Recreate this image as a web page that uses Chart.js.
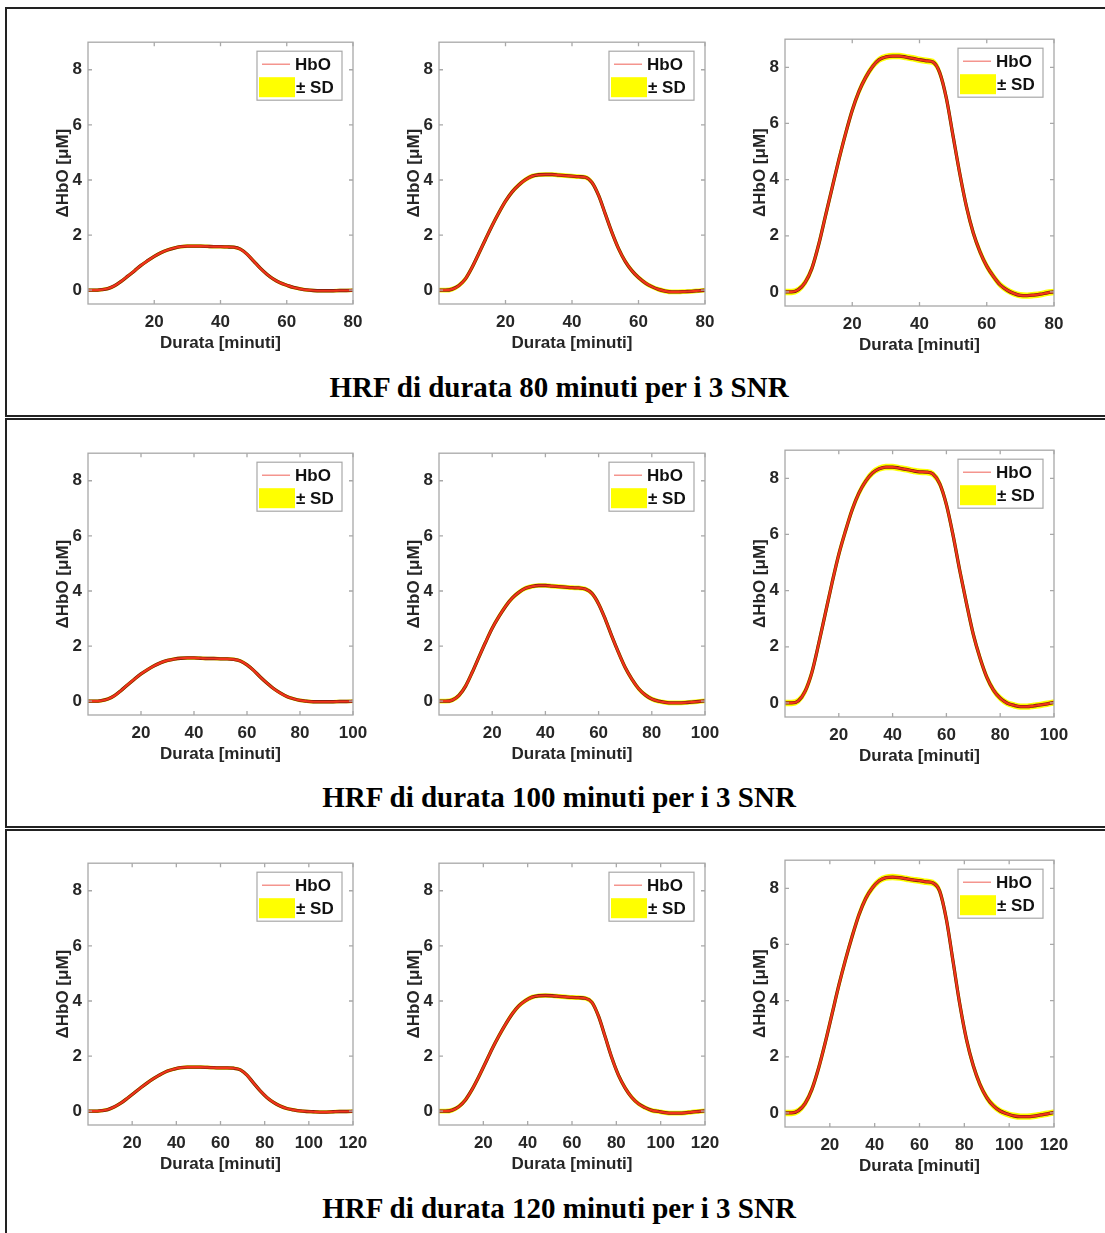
<!DOCTYPE html>
<html>
<head>
<meta charset="utf-8">
<title>HRF</title>
<script src="https://cdn.jsdelivr.net/npm/chart.js@4.4.1/dist/chart.umd.min.js"></script>
<style>
  body { margin: 0; background: #fff; width: 1105px; height: 1233px; overflow: hidden; position: relative; }
  .frame { position: absolute; left: 5px; width: 1108px; border: 2px solid #222; box-sizing: border-box; }
  .caption { position: absolute; left: 5px; width: 1108px; text-align: center; line-height: 32px;
             font: bold 29px 'Liberation Serif', 'Times New Roman', serif; color: #000; }
  canvas { position: absolute; }
</style>
</head>
<body>
<div class="frame" style="top:7px;height:410px"></div>
<div class="frame" style="top:418px;height:410px"></div>
<div class="frame" style="top:829px;height:420px"></div>
<div class="caption" style="top:371px">HRF di durata 80 minuti per i 3 SNR</div>
<div class="caption" style="top:781px">HRF di durata 100 minuti per i 3 SNR</div>
<div class="caption" style="top:1192px">HRF di durata 120 minuti per i 3 SNR</div>

<script>
// time axes (minutes)
const t80 = [0, 2, 4, 6, 8, 10, 12, 14, 16, 18, 20, 22, 24, 26, 28, 30, 32, 34, 36, 38, 40,
  42, 44, 46, 48, 50, 52, 54, 56, 58, 60, 62, 64, 66, 68, 70, 72, 74, 76, 78, 80];
const t100 = [0, 2.5, 5, 7.5, 10, 12.5, 15, 17.5, 20, 22.5, 25, 27.5, 30, 32.5, 35, 37.5, 40,
  42.5, 45, 47.5, 50, 52.5, 55, 57.5, 60, 62.5, 65, 67.5, 70, 72.5, 75, 77.5, 80,
  82.5, 85, 87.5, 90, 92.5, 95, 97.5, 100];
const t120 = [0, 3, 6, 9, 12, 15, 18, 21, 24, 27, 30, 33, 36, 39, 42, 45, 48, 51, 54, 57, 60,
  63, 66, 69, 72, 75, 78, 81, 84, 87, 90, 93, 96, 99, 102, 105, 108, 111, 114, 117, 120];

// mean HbO response, duration 80
const hbo80a = [0, 0, 0.02, 0.06, 0.16, 0.32, 0.51, 0.70, 0.90, 1.07, 1.23, 1.36, 1.46, 1.53, 1.58, 1.60, 1.60, 1.60, 1.59, 1.58, 1.58,
  1.57, 1.56, 1.49, 1.31, 1.06, 0.80, 0.58, 0.40, 0.27, 0.18, 0.10, 0.05, 0.01, -0.01, -0.02, -0.02, -0.02, -0.01, -0.01, 0];
const hbo80b = [0, 0, 0.04, 0.17, 0.42, 0.84, 1.34, 1.85, 2.35, 2.81, 3.23, 3.57, 3.82, 4.01, 4.14, 4.19, 4.20, 4.20, 4.18, 4.16, 4.14,
  4.12, 4.10, 3.91, 3.44, 2.77, 2.10, 1.51, 1.05, 0.71, 0.46, 0.27, 0.13, 0.03, -0.03, -0.06, -0.06, -0.05, -0.04, -0.02, 0];
const hbo80c = [0, 0, 0.08, 0.34, 0.84, 1.68, 2.69, 3.70, 4.70, 5.63, 6.47, 7.14, 7.64, 8.02, 8.27, 8.37, 8.40, 8.40, 8.36, 8.32, 8.27,
  8.23, 8.19, 7.81, 6.89, 5.54, 4.20, 3.02, 2.10, 1.43, 0.92, 0.55, 0.25, 0.07, -0.05, -0.12, -0.13, -0.11, -0.08, -0.03, 0];

// mean HbO response, duration 100
const hbo100a = [0, 0, 0.02, 0.08, 0.20, 0.39, 0.60, 0.80, 0.99, 1.15, 1.29, 1.40, 1.48, 1.53, 1.56, 1.57, 1.57, 1.56, 1.55, 1.55, 1.54,
  1.54, 1.52, 1.46, 1.32, 1.12, 0.88, 0.66, 0.46, 0.30, 0.17, 0.09, 0.03, 0, -0.02, -0.02, -0.02, -0.02, -0.01, -0.01, 0];
const hbo100b = [0, 0, 0.04, 0.21, 0.55, 1.05, 1.60, 2.14, 2.65, 3.07, 3.44, 3.74, 3.95, 4.10, 4.17, 4.20, 4.20, 4.18, 4.16, 4.14, 4.12,
  4.11, 4.07, 3.91, 3.53, 2.98, 2.35, 1.76, 1.22, 0.80, 0.46, 0.23, 0.08, 0, -0.04, -0.06, -0.06, -0.05, -0.03, -0.01, 0.01];
const hbo100c = [0, 0, 0.08, 0.42, 1.09, 2.10, 3.19, 4.28, 5.29, 6.13, 6.89, 7.48, 7.90, 8.19, 8.34, 8.40, 8.40, 8.36, 8.32, 8.27, 8.23,
  8.22, 8.15, 7.81, 7.06, 5.96, 4.70, 3.53, 2.44, 1.60, 0.92, 0.46, 0.17, 0, -0.08, -0.13, -0.13, -0.10, -0.07, -0.03, 0.02];

// mean HbO response, duration 120
const hbo120a = [0, 0, 0.02, 0.06, 0.16, 0.30, 0.48, 0.67, 0.86, 1.04, 1.20, 1.34, 1.46, 1.53, 1.58, 1.60, 1.60, 1.60, 1.59, 1.58, 1.57,
  1.57, 1.56, 1.50, 1.31, 1.02, 0.74, 0.50, 0.32, 0.19, 0.10, 0.05, 0.01, -0.01, -0.02, -0.03, -0.03, -0.02, -0.01, -0.01, 0];
const hbo120b = [0, 0, 0.04, 0.17, 0.42, 0.80, 1.26, 1.76, 2.27, 2.73, 3.15, 3.53, 3.82, 4.01, 4.14, 4.19, 4.20, 4.19, 4.17, 4.15, 4.13,
  4.12, 4.10, 3.95, 3.44, 2.69, 1.93, 1.30, 0.84, 0.50, 0.27, 0.13, 0.03, -0.01, -0.05, -0.07, -0.07, -0.06, -0.03, -0.01, 0.01];
const hbo120c = [0, 0, 0.08, 0.34, 0.84, 1.60, 2.52, 3.53, 4.54, 5.46, 6.30, 7.06, 7.64, 8.02, 8.27, 8.38, 8.40, 8.38, 8.34, 8.30, 8.27,
  8.23, 8.19, 7.90, 6.89, 5.38, 3.86, 2.60, 1.68, 1.01, 0.55, 0.25, 0.07, -0.03, -0.10, -0.13, -0.13, -0.11, -0.07, -0.03, 0.02];

// standard deviation per SNR (low, mid, high amplitude)
const sdLevels = [0.02, 0.04, 0.07];

const xTicks80 = [20, 40, 60, 80];
const xTicks100 = [20, 40, 60, 80, 100];
const xTicks120 = [20, 40, 60, 80, 100, 120];
const yTicks = [0, 2, 4, 6, 8];

const AXIS_W = 70, AXIS_H = 50, PAD_T = 14, PAD_R = 24;
const FONT = "'Liberation Sans', Arial, sans-serif";
const TEXT = '#262626';

// MATLAB-style box with inward ticks on all four sides
const axesBox = {
  id: 'axesBox',
  afterDatasetsDraw(chart) {
    const { ctx, chartArea: a, scales: { x, y } } = chart;
    ctx.save();
    ctx.strokeStyle = '#a8a8a8';
    ctx.lineWidth = 1.3;
    ctx.strokeRect(a.left, a.top, a.right - a.left, a.bottom - a.top);
    ctx.beginPath();
    x.ticks.forEach(t => {
      const px = x.getPixelForValue(t.value);
      ctx.moveTo(px, a.bottom); ctx.lineTo(px, a.bottom - 4);
      ctx.moveTo(px, a.top); ctx.lineTo(px, a.top + 4);
    });
    y.ticks.forEach(t => {
      const py = y.getPixelForValue(t.value);
      ctx.moveTo(a.left, py); ctx.lineTo(a.left + 4, py);
      ctx.moveTo(a.right, py); ctx.lineTo(a.right - 4, py);
    });
    ctx.stroke();
    ctx.restore();
  }
};

// legend box in the upper right corner of the axes
const insetLegend = {
  id: 'insetLegend',
  afterDraw(chart) {
    const { ctx, chartArea: a } = chart;
    const line = chart.data.datasets.find(d => d.label === 'HbO');
    const band = chart.data.datasets.find(d => d.label === '± SD');
    const w = 85, h = 49;
    const left = a.right - 11 - w, top = a.top + 9;
    ctx.save();
    ctx.fillStyle = '#fff';
    ctx.fillRect(left, top, w, h);
    ctx.strokeStyle = '#a8a8a8';
    ctx.lineWidth = 1.2;
    ctx.strokeRect(left, top, w, h);

    ctx.strokeStyle = '#f27a72';
    ctx.lineWidth = 1.2;
    ctx.beginPath();
    ctx.moveTo(left + 5, top + 13);
    ctx.lineTo(left + 33, top + 13);
    ctx.stroke();

    ctx.fillStyle = band.backgroundColor;
    ctx.fillRect(left + 2, top + 26, 36, 20);

    ctx.fillStyle = '#111';
    ctx.font = `bold 17px ${FONT}`;
    ctx.textBaseline = 'middle';
    ctx.textAlign = 'left';
    ctx.fillText(line.label, left + 38, top + 14);
    ctx.fillText(band.label, left + 39, top + 37);
    ctx.restore();
  }
};

function makePanel(rect, times, mean, sd, xTicks) {
  const canvas = document.createElement('canvas');
  const w = rect.right - rect.left + AXIS_W + PAD_R;
  const h = rect.bottom - rect.top + PAD_T + AXIS_H;
  canvas.width = w;
  canvas.height = h;
  canvas.style.width = w + 'px';
  canvas.style.height = h + 'px';
  canvas.style.left = (rect.left - AXIS_W) + 'px';
  canvas.style.top = (rect.top - PAD_T) + 'px';
  document.body.appendChild(canvas);

  const upper = mean.map(v => v + sd);
  const lower = mean.map(v => v - sd);
  const common = { pointRadius: 0, cubicInterpolationMode: 'monotone' };

  new Chart(canvas, {
    type: 'line',
    data: {
      labels: times,
      datasets: [
        { ...common, label: 'HbO', data: mean, borderColor: '#f2341c', borderWidth: 2.2, fill: false, order: 0 },
        { ...common, label: 'edge', data: mean, borderColor: '#6a1a08', borderWidth: 3.3, fill: false, order: 1 },
        { ...common, label: '± SD', data: upper, borderColor: '#ffff00', backgroundColor: '#ffff00',
          borderWidth: 2.5, fill: '+1', order: 2 },
        { ...common, label: 'lower', data: lower, borderColor: '#ffff00', borderWidth: 2.5, fill: false, order: 3 }
      ]
    },
    options: {
      responsive: false,
      animation: false,
      layout: { padding: { top: PAD_T, right: PAD_R, left: 0, bottom: 0 } },
      plugins: { legend: { display: false }, tooltip: { enabled: false } },
      scales: {
        x: {
          type: 'linear',
          min: 0,
          max: xTicks[xTicks.length - 1],
          afterBuildTicks: s => { s.ticks = xTicks.map(v => ({ value: v })); },
          afterFit: s => { s.height = AXIS_H; },
          grid: { display: false, drawTicks: false },
          border: { display: false },
          ticks: { color: TEXT, padding: 8, maxRotation: 0, font: { family: FONT, size: 17, weight: 'bold' } },
          title: { display: true, text: 'Durata [minuti]', color: TEXT, padding: { top: 0, bottom: 0 },
                   font: { family: FONT, size: 17, weight: 'bold' } }
        },
        y: {
          min: -0.5,
          max: 9,
          afterBuildTicks: s => { s.ticks = yTicks.map(v => ({ value: v })); },
          afterFit: s => { s.width = AXIS_W; },
          grid: { display: false, drawTicks: false },
          border: { display: false },
          ticks: { color: TEXT, padding: 6, font: { family: FONT, size: 17, weight: 'bold' } },
          title: { display: true, text: 'ΔHbO [μM]', color: TEXT, padding: { top: 35, bottom: 0 },
                   font: { family: FONT, size: 17, weight: 'bold' } }
        }
      }
    },
    plugins: [axesBox, insetLegend]
  });
}

// axes rectangles of the three panels in the first row; other rows are shifted down
const panelRects = [
  { left: 88, right: 353, top: 40, bottom: 304 },
  { left: 439, right: 705, top: 40, bottom: 304 },
  { left: 785, right: 1054, top: 37, bottom: 306 }
];
const rowShift = [0, 411, 821];

const rows = [
  { times: t80, series: [hbo80a, hbo80b, hbo80c], ticks: xTicks80 },
  { times: t100, series: [hbo100a, hbo100b, hbo100c], ticks: xTicks100 },
  { times: t120, series: [hbo120a, hbo120b, hbo120c], ticks: xTicks120 }
];

rows.forEach((row, r) => {
  row.series.forEach((mean, p) => {
    const base = panelRects[p];
    const rect = { left: base.left, right: base.right, top: base.top + rowShift[r], bottom: base.bottom + rowShift[r] };
    makePanel(rect, row.times, mean, sdLevels[p], row.ticks);
  });
});
</script>
</body>
</html>
